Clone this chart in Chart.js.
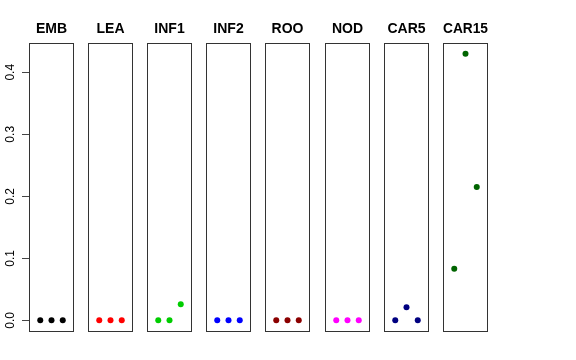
<!DOCTYPE html>
<html>
<head>
<meta charset="utf-8">
<script src="https://cdn.jsdelivr.net/npm/chart.js@4"></script>
<style>
  body { margin: 0; background: #fff; }
  #wrap { position: relative; width: 576px; height: 360px; }
  #wrap canvas { position: absolute; top: 0; }
</style>
</head>
<body>
<div id="wrap"></div>
<script>
// tissues and their values at the three points
const tissues = ['EMB', 'LEA', 'INF1', 'INF2', 'ROO', 'NOD', 'CAR5', 'CAR15']
const xs = [1, 2, 3]
const EMB = [0, 0, 0]
const LEA = [0, 0, 0]
const INF1 = [0, 0, 0.026]
const INF2 = [0, 0, 0]
const ROO = [0, 0, 0]
const NOD = [0, 0, 0]
const CAR5 = [0, 0.021, 0]
const CAR15 = [0.083, 0.430, 0.215]
const allValues = [EMB, LEA, INF1, INF2, ROO, NOD, CAR5, CAR15]
const colors = ['#000000', '#FF0000', '#00CD00', '#0000FF', '#8B0000', '#FF00FF', '#000080', '#006400']
const yTicks = [0, 0.1, 0.2, 0.3, 0.4]

const H = 360
const panelW = 45, axisW = 29, pitch = 59.1

const boxPlugin = {
    id: 'box',
    afterDraw(chart) {
        const a = chart.chartArea, ctx = chart.ctx
        ctx.save()
        ctx.strokeStyle = '#333'
        ctx.lineWidth = 1
        ctx.strokeRect(Math.round(a.left) + 0.5, Math.round(a.top) + 0.5,
            Math.round(a.right - a.left) - 1, Math.round(a.bottom - a.top))
        ctx.restore()
    }
}

function printPanel(i) {
    const first = i === 0
    const left = Math.round(axisW + pitch * i)
    const w = first ? axisW + panelW : panelW

    const canvas = document.createElement('canvas')
    canvas.width = w
    canvas.height = H
    canvas.style.width = w + 'px'
    canvas.style.height = H + 'px'
    canvas.style.left = (first ? 0 : left) + 'px'
    document.getElementById('wrap').appendChild(canvas)

    new Chart(canvas, {
        type: 'scatter',
        data: {
            datasets: [{
                data: xs.map((x, j) => ({ x: x, y: allValues[i][j] })),
                backgroundColor: colors[i],
                borderColor: colors[i],
                pointRadius: 3,
                pointHoverRadius: 3,
                borderWidth: 0
            }]
        },
        options: {
            responsive: false,
            animation: false,
            layout: { autoPadding: false, padding: { left: 0, right: 0, top: 0, bottom: 29 } },
            plugins: {
                legend: { display: false },
                tooltip: { enabled: false },
                title: {
                    display: true,
                    text: tissues[i],
                    fullSize: false,
                    color: '#000',
                    font: { family: 'Liberation Sans, Arial, sans-serif', size: 14, weight: 'bold', lineHeight: 1.2 },
                    padding: { top: 21, bottom: 5.2 }
                }
            },
            scales: {
                x: { type: 'linear', min: 0, max: 4, display: false },
                y: {
                    type: 'linear',
                    min: -0.0172,
                    max: 0.4472,
                    display: first,
                    afterBuildTicks: s => { s.ticks = yTicks.map(v => ({ value: v })) },
                    afterFit: s => { if (first) s.width = axisW },
                    border: { display: false },
                    grid: {
                        drawOnChartArea: false,
                        drawTicks: true,
                        tickLength: 7,
                        color: '#444'
                    },
                    ticks: {
                        minRotation: 90,
                        maxRotation: 90,
                        crossAlign: 'center',
                        padding: 3,
                        color: '#000',
                        font: { family: 'Liberation Sans, Arial, sans-serif', size: 12 },
                        callback: v => v.toFixed(1)
                    }
                }
            }
        },
        plugins: [boxPlugin]
    })
}

tissues.forEach((t, i) => printPanel(i))
</script>
</body>
</html>
